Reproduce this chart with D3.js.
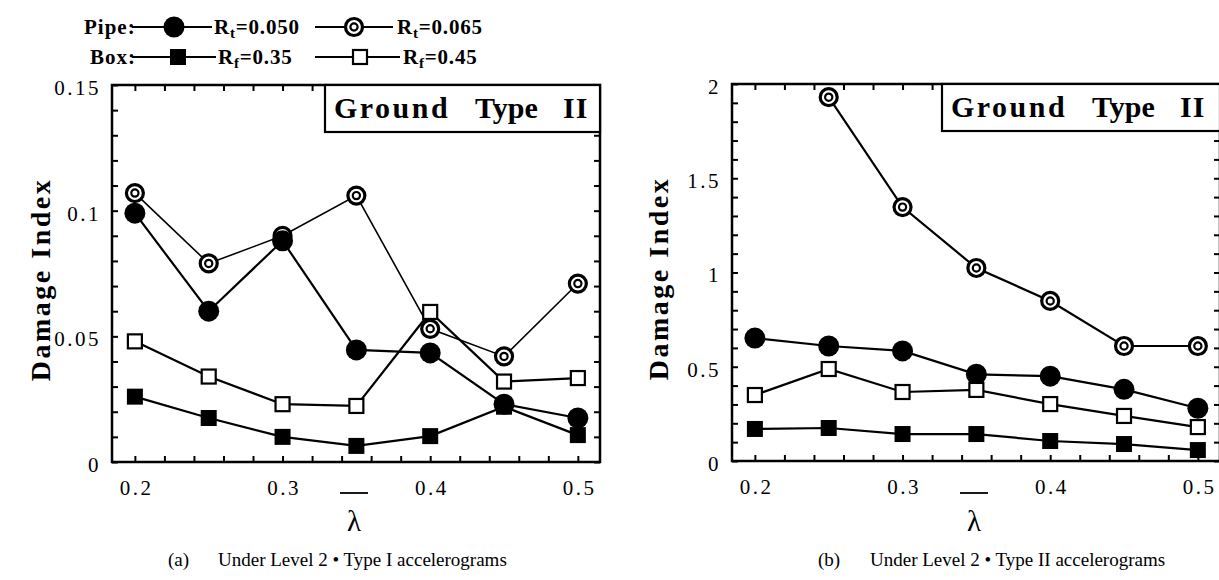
<!DOCTYPE html>
<html>
<head>
<meta charset="utf-8">
<script src="https://cdn.jsdelivr.net/npm/d3@7"></script>
<style>
  body { margin: 0; background: #fff; }
  svg { display: block; font-family: "Liberation Serif", "Times New Roman", serif; }
</style>
</head>
<body>
<div id="root"></div>
<script>
// lambda values on the x axis
const lambdaValues = [0.2, 0.25, 0.3, 0.35, 0.4, 0.45, 0.5];

// (a) Level 2, Type I accelerograms
const pipeRt050A = [0.099, 0.060, 0.088, 0.0446, 0.0434, 0.023, 0.0175];
const pipeRt065A = [0.107, 0.079, 0.090, 0.106, 0.053, 0.042, 0.071];
const boxRf035A = [0.026, 0.0175, 0.010, 0.0064, 0.0103, 0.022, 0.0107];
const boxRf045A = [0.048, 0.034, 0.023, 0.0223, 0.0597, 0.032, 0.0334];

// (b) Level 2, Type II accelerograms (Rt=0.065 at 0.2 is off the chart)
const pipeRt050B = [0.652, 0.61, 0.584, 0.46, 0.45, 0.38, 0.28];
const pipeRt065B = [null, 1.93, 1.347, 1.024, 0.849, 0.61, 0.61];
const boxRf035B = [0.17, 0.175, 0.143, 0.143, 0.106, 0.09, 0.058];
const boxRf045B = [0.35, 0.488, 0.366, 0.377, 0.302, 0.239, 0.18];

const xTickValues = d3.range(0, 16).map(i => +(0.2 + i * 0.02).toFixed(2));
const xLabelValues = [0.2, 0.3, 0.4, 0.5];
const yTicksA = d3.range(0, 16).map(i => +(i * 0.01).toFixed(2));
const yLabelsA = [0, 0.05, 0.1, 0.15];
const yTicksB = d3.range(0, 21).map(i => +(i * 0.1).toFixed(1));
const yLabelsB = [0, 0.5, 1, 1.5, 2];

const captions = ["(a)", "(b)"];
const captionTexts = ["Under Level 2 \u2022 Type I accelerograms", "Under Level 2 \u2022 Type II accelerograms"];

const W = 1219, H = 580;
const svg = d3.select("#root").append("svg").attr("width", W).attr("height", H);

const panels = [
  { left: 112, right: 600, top: 85, bottom: 462, yMax: 0.15, yTicks: yTicksA, yLabels: yLabelsA,
    series: [pipeRt065A, pipeRt050A, boxRf045A, boxRf035A], boxLeft: 325,
    capX: 168, capTextX: 218, labelX: 40, thinRing: true },
  { left: 732, right: 1220, top: 84, bottom: 461, yMax: 2, yTicks: yTicksB, yLabels: yLabelsB,
    series: [pipeRt065B, pipeRt050B, boxRf045B, boxRf035B], boxLeft: 942,
    capX: 818, capTextX: 870, labelX: 658, thinRing: false }
];
const markerTypes = ["ring", "dot", "openSquare", "square"];

function drawMarker(g, type, cx, cy) {
  if (type === "dot") {
    g.append("circle").attr("cx", cx).attr("cy", cy).attr("r", 10.5).attr("fill", "#000");
  } else if (type === "ring") {
    g.append("circle").attr("cx", cx).attr("cy", cy).attr("r", 8.5)
      .attr("fill", "#fff").attr("stroke", "#000").attr("stroke-width", 3.2);
    g.append("circle").attr("cx", cx).attr("cy", cy).attr("r", 3.6)
      .attr("fill", "#fff").attr("stroke", "#000").attr("stroke-width", 2.2);
  } else if (type === "square") {
    g.append("rect").attr("x", cx - 8).attr("y", cy - 8).attr("width", 16).attr("height", 16).attr("fill", "#000");
  } else {
    g.append("rect").attr("x", cx - 7).attr("y", cy - 7).attr("width", 14).attr("height", 14)
      .attr("fill", "#fff").attr("stroke", "#000").attr("stroke-width", 2.2);
  }
}

const fmt = d => String(+d.toFixed(2));

panels.forEach((p, pi) => {
  const x = d3.scaleLinear().domain([0.1845, 0.515]).range([p.left, p.right]);
  const y = d3.scaleLinear().domain([0, p.yMax]).range([p.bottom, p.top]);
  const g = svg.append("g");

  const axes = g.append("g").attr("class", "axes");
  const bottomAxis = d3.axisBottom(x).tickValues(xTickValues).tickSizeInner(-6).tickSizeOuter(0).tickPadding(18)
    .tickFormat(d => xLabelValues.some(v => Math.abs(v - d) < 1e-6) ? fmt(d) : "");
  const topAxis = d3.axisTop(x).tickValues(xTickValues).tickSizeInner(-6).tickSizeOuter(0).tickFormat("");
  const leftAxis = d3.axisLeft(y).tickValues(p.yTicks).tickSizeInner(-6).tickSizeOuter(0).tickPadding(11)
    .tickFormat(d => p.yLabels.some(v => Math.abs(v - d) < 1e-6) ? fmt(d) : "");
  const rightAxis = d3.axisRight(y).tickValues(p.yTicks).tickSizeInner(-6).tickSizeOuter(0).tickFormat("");

  const gb = axes.append("g").attr("transform", `translate(0,${p.bottom})`).call(bottomAxis);
  axes.append("g").attr("transform", `translate(0,${p.top})`).call(topAxis);
  const gl = axes.append("g").attr("transform", `translate(${p.left},0)`).call(leftAxis);
  axes.append("g").attr("transform", `translate(${p.right},0)`).call(rightAxis);
  axes.selectAll("g").attr("font-family", null).attr("font-size", null);
  axes.selectAll(".domain").remove();
  axes.selectAll(".tick line").attr("stroke", "#000").attr("stroke-width", 2);
  axes.selectAll(".tick text").attr("fill", "#000").attr("font-size", 21).attr("letter-spacing", 2.5);
  gb.selectAll(".tick text").attr("dx", 1.2);
  gl.selectAll(".tick text").attr("dy", "0.45em");

  g.append("rect").attr("x", p.left).attr("y", p.top)
    .attr("width", p.right - p.left).attr("height", p.bottom - p.top)
    .attr("fill", "none").attr("stroke", "#000").attr("stroke-width", 2.5);

  // Ground Type II box
  g.append("rect").attr("x", p.boxLeft).attr("y", p.top)
    .attr("width", p.right - p.boxLeft).attr("height", 47)
    .attr("fill", "#fff").attr("stroke", "#000").attr("stroke-width", 2.2);
  const gt = g.append("text").attr("y", p.top + 33).attr("font-size", 30).attr("font-weight", "bold");
  gt.append("tspan").attr("x", p.boxLeft + 9).attr("letter-spacing", 2.5).text("Ground");
  gt.append("tspan").attr("x", p.boxLeft + 150).text("Type");
  gt.append("tspan").attr("x", p.boxLeft + 238).attr("letter-spacing", 1).text("II");

  // series
  p.series.forEach((vals, si) => {
    const pts = lambdaValues.map((l, i) => [l, vals[i]]);
    const line = d3.line().defined(d => d[1] != null).x(d => x(d[0])).y(d => y(d[1]));
    g.append("path").attr("d", line(pts)).attr("fill", "none").attr("stroke", "#000")
      .attr("stroke-width", (si === 0 && p.thinRing) ? 1.6 : 2.2);
  });
  p.series.forEach((vals, si) => {
    lambdaValues.forEach((l, i) => {
      if (vals[i] == null) return;
      drawMarker(g, markerTypes[si], x(l), y(vals[i]));
    });
  });

  // y label
  const cy = (p.top + p.bottom) / 2 + 6;
  g.append("text").attr("transform", `translate(${p.labelX + 10},${cy}) rotate(-90)`)
    .attr("text-anchor", "middle").attr("font-size", 28).attr("font-weight", "bold")
    .attr("letter-spacing", 2.5).text("Damage Index");

  // x label: lambda with overbar
  const cx = (p.left + p.right) / 2 - 2;
  g.append("line").attr("x1", cx - 14).attr("x2", cx + 14).attr("y1", 493).attr("y2", 493)
    .attr("stroke", "#000").attr("stroke-width", 1.8);
  g.append("text").attr("x", cx).attr("y", 531).attr("text-anchor", "middle")
    .attr("font-size", 29).text("\u03bb");

  // caption
  g.append("text").attr("x", p.capX).attr("y", 566).attr("font-size", 19).text(captions[pi]);
  g.append("text").attr("x", p.capTextX).attr("y", 566).attr("font-size", 19).text(captionTexts[pi]);
});

// legend
const legend = svg.append("g").attr("font-weight", "bold").attr("font-size", 21);
const legendRows = [
  { label: "Pipe:", labelX: 84, y: 27, items: [
    { type: "dot", x1: 132, x2: 212, mx: 174, sub: "t", val: "=0.050", tx: 214 },
    { type: "ring", x1: 315, x2: 393, mx: 354, sub: "t", val: "=0.065", tx: 397 } ] },
  { label: "Box:", labelX: 90, y: 57, items: [
    { type: "square", x1: 132, x2: 216, mx: 178, sub: "f", val: "=0.35", tx: 218 },
    { type: "openSquare", x1: 315, x2: 400, mx: 360, sub: "f", val: "=0.45", tx: 403 } ] }
];
legendRows.forEach(r => {
  legend.append("text").attr("x", r.labelX).attr("y", r.y + 7).attr("letter-spacing", 1).text(r.label);
  r.items.forEach(it => {
    legend.append("line").attr("x1", it.x1).attr("x2", it.x2).attr("y1", r.y).attr("y2", r.y)
      .attr("stroke", "#000").attr("stroke-width", 2.2);
    drawMarker(legend, it.type, it.mx, r.y);
    const t = legend.append("text").attr("x", it.tx).attr("y", r.y + 7).attr("letter-spacing", 0.8);
    t.append("tspan").text("R");
    t.append("tspan").attr("dy", 4).attr("font-size", 15).text(it.sub);
    t.append("tspan").attr("dy", -4).text(it.val);
  });
});
</script>
</body>
</html>
